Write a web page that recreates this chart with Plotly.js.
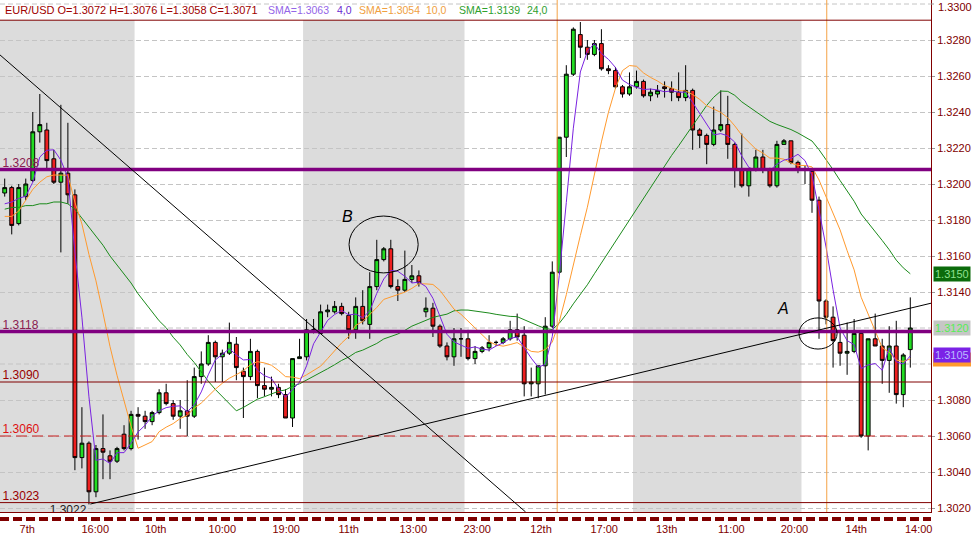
<!DOCTYPE html>
<html><head><meta charset="utf-8">
<script src="https://cdn.plot.ly/plotly-3.0.1.min.js"></script>
<style>html,body{margin:0;padding:0;background:#fff}#chart{width:976px;height:539px}</style>
</head><body><div id="chart"></div>
<script>
// ---- data (hourly EUR/USD candles, index 0..129) ----
const openP = [1.3195,1.3198,1.3178,1.3193,1.3202,1.3229,1.3230,1.3214,1.3201,1.3206,
1.3194,1.3048,1.3056,1.3029,1.3053,1.3049,1.3046,1.3061,1.3053,1.3072,
1.3071,1.3068,1.3073,1.3084,1.3078,1.3071,1.3074,1.3071,1.3093,1.3100,
1.3112,1.3104,1.3106,1.3111,1.3096,1.3093,1.3107,1.3088,1.3086,1.3087,
1.3083,1.3070,1.3103,1.3104,1.3119,1.3117,1.3129,1.3129,1.3132,1.3127,
1.3119,1.3132,1.3122,1.3143,1.3158,1.3164,1.3143,1.3141,1.3147,1.3149,
1.3129,1.3131,1.3121,1.3110,1.3104,1.3114,1.3114,1.3103,1.3107,1.3109,
1.3112,1.3112,1.3114,1.3119,1.3116,1.3089,1.3089,1.3099,1.3121,1.3151,
1.3226,1.3261,1.3283,1.3276,1.3272,1.3278,1.3264,1.3263,1.3254,1.3250,
1.3254,1.3257,1.3249,1.3250,1.3254,1.3253,1.3251,1.3248,1.3252,1.3230,
1.3227,1.3222,1.3230,1.3233,1.3222,1.3208,1.3199,1.3208,1.3215,1.3208,
1.3199,1.3222,1.3224,1.3212,1.3208,1.3207,1.3191,1.3135,1.3126,1.3112,
1.3106,1.3107,1.3117,1.3060,1.3114,1.3110,1.3102,1.3110,1.3083,1.3108];
const highP = [1.3203,1.3199,1.3200,1.3203,1.3240,1.3250,1.3234,1.3219,1.3244,1.3234,
1.3197,1.3076,1.3057,1.3055,1.3072,1.3052,1.3054,1.3066,1.3074,1.3076,
1.3074,1.3074,1.3086,1.3089,1.3080,1.3080,1.3091,1.3098,1.3107,1.3116,
1.3113,1.3108,1.3123,1.3115,1.3098,1.3114,1.3108,1.3098,1.3093,1.3089,
1.3086,1.3103,1.3114,1.3125,1.3125,1.3133,1.3133,1.3135,1.3134,1.3129,
1.3137,1.3141,1.3151,1.3169,1.3165,1.3169,1.3147,1.3163,1.3155,1.3152,
1.3137,1.3134,1.3122,1.3112,1.3120,1.3120,1.3119,1.3110,1.3110,1.3116,
1.3113,1.3115,1.3124,1.3128,1.3121,1.3098,1.3099,1.3126,1.3157,1.3226,
1.3266,1.3287,1.3290,1.3280,1.3280,1.3286,1.3266,1.3265,1.3255,1.3262,
1.3263,1.3258,1.3253,1.3255,1.3257,1.3257,1.3262,1.3266,1.3253,1.3231,
1.3228,1.3243,1.3252,1.3249,1.3223,1.3228,1.3209,1.3219,1.3219,1.3209,
1.3224,1.3225,1.3224,1.3213,1.3210,1.3208,1.3193,1.3136,1.3132,1.3119,
1.3123,1.3125,1.3118,1.3114,1.3128,1.3114,1.3121,1.3124,1.3106,1.3137];
const lowP = [1.3193,1.3172,1.3177,1.3191,1.3201,1.3223,1.3208,1.3200,1.3162,1.3189,
1.3041,1.3042,1.3022,1.3026,1.3036,1.3036,1.3045,1.3052,1.3052,1.3058,
1.3064,1.3066,1.3072,1.3077,1.3069,1.3064,1.3060,1.3070,1.3089,1.3099,
1.3090,1.3090,1.3105,1.3091,1.3070,1.3091,1.3081,1.3082,1.3082,1.3081,
1.3070,1.3065,1.3103,1.3102,1.3117,1.3117,1.3126,1.3128,1.3127,1.3114,
1.3114,1.3122,1.3114,1.3141,1.3157,1.3142,1.3135,1.3140,1.3145,1.3143,
1.3126,1.3115,1.3109,1.3102,1.3099,1.3104,1.3102,1.3100,1.3106,1.3107,
1.3110,1.3111,1.3113,1.3113,1.3082,1.3082,1.3081,1.3083,1.3120,1.3150,
1.3215,1.3260,1.3270,1.3269,1.3271,1.3263,1.3261,1.3253,1.3248,1.3249,
1.3253,1.3248,1.3246,1.3248,1.3248,1.3246,1.3246,1.3246,1.3219,1.3220,
1.3211,1.3221,1.3229,1.3214,1.3198,1.3198,1.3193,1.3207,1.3206,1.3198,
1.3198,1.3222,1.3211,1.3206,1.3200,1.3184,1.3114,1.3122,1.3098,1.3099,
1.3094,1.3106,1.3059,1.3052,1.3110,1.3089,1.3084,1.3078,1.3076,1.3098];
const closeP = [1.3198,1.3177,1.3198,1.3200,1.3229,1.3233,1.3213,1.3201,1.3206,1.3194,
1.3048,1.3056,1.3029,1.3053,1.3051,1.3046,1.3053,1.3053,1.3072,1.3071,
1.3068,1.3073,1.3084,1.3078,1.3071,1.3074,1.3071,1.3093,1.3100,1.3112,
1.3104,1.3106,1.3112,1.3098,1.3093,1.3107,1.3088,1.3086,1.3087,1.3083,
1.3070,1.3103,1.3104,1.3119,1.3119,1.3129,1.3130,1.3132,1.3128,1.3119,
1.3132,1.3124,1.3143,1.3158,1.3164,1.3143,1.3141,1.3147,1.3149,1.3145,
1.3131,1.3121,1.3110,1.3104,1.3114,1.3114,1.3103,1.3107,1.3109,1.3112,
1.3112,1.3114,1.3119,1.3115,1.3089,1.3090,1.3099,1.3121,1.3151,1.3226,
1.3261,1.3286,1.3276,1.3272,1.3278,1.3264,1.3263,1.3254,1.3250,1.3254,
1.3257,1.3249,1.3251,1.3252,1.3253,1.3251,1.3248,1.3252,1.3230,1.3227,
1.3222,1.3230,1.3233,1.3222,1.3208,1.3199,1.3208,1.3215,1.3208,1.3199,
1.3222,1.3224,1.3212,1.3208,1.3208,1.3191,1.3135,1.3126,1.3113,1.3106,
1.3107,1.3117,1.3060,1.3114,1.3110,1.3102,1.3110,1.3083,1.3105,1.3120];
// moving-average values visible before enough candles exist
const sma4Lead  = [1.3189,1.3190,1.3192];
const sma10Lead = [1.3182,1.3182,1.3185,1.3191,1.3197,1.3201,1.3204,1.3205,1.3205];
const sma24Lead = [1.3186,1.3187,1.3187,1.3188,1.3188,1.3189,1.3189,1.3190,1.3190,1.3189,
                   1.3186,1.3181,1.3176,1.3171,1.3166,1.3160,1.3155,1.3150,1.3145,1.3139,
                   1.3134,1.3129,1.3124];
const tickIdx  = [3.2,12.9,21.5,31,40.1,49,58.2,67.3,76.4,85.4,94.3,103.5,112.5,121.3,130.2];
const tickText = ['7th','16:00','10th','10:00','19:00','11th','13:00','23:00','12th','17:00','13th','11:00','20:00','14th','14:00'];
// 1.3100 and 1.3120 sit under the price boxes on the right; 1.3300 is at the very top edge
const priceTicks = [1.3020,1.3040,1.3060,1.3080,1.3140,1.3160,1.3180,1.3200,1.3220,1.3240,1.3260,1.3280];
const gridPrices = [1.3100,1.3120,1.3300];
const topTickLabel = '1.3300';
const levelPrices = [1.3208,1.3118,1.3090,1.3060,1.3023];
const levelLabels = ['1.3208','1.3118','1.3090','1.3060','1.3023'];
const lowLabel = '1.3022';
const recentHigh = 1.3291;
const dayBands = [[-0.7,18.5],[42.5,65.5],[89.5,113.5]];
const sessionMarks = [78.7,117.1];
const trendDown = [[-0.67,1.32717],[74.2,1.30178]];
const trendUp   = [[12.2,1.30222],[132.2,1.31340]];
const headerParts = ['EUR/USD O=1.3072 H=1.3076 L=1.3058 C=1.3071','SMA=1.3063','4,0','SMA=1.3054','10,0','SMA=1.3139','24,0'];
const sidePrices = [1.3105,1.3120,1.3150];
const sma10Last = 1.3103;

// ---- derived ----
const idx = closeP.map((_, i) => i);
function sma(n, lead) {
  return closeP.map((_, i) => {
    if (i < n - 1) return lead[i];
    let s = 0;
    for (let k = i - n + 1; k <= i; k++) s += closeP[k];
    return s / n;
  });
}
const sma4 = sma(4, sma4Lead), sma10 = sma(10, sma10Lead), sma24 = sma(24, sma24Lead);

// ---- geometry helpers (plot area 931 x 512 px) ----
const PW = 931, PH = 512;
const px = v => v / PW, py = v => (PH - v) / PH;
const FONT = 'Liberation Sans, Arial, sans-serif';
const MAROON = '#800000';
const YMIN = 1.301778, YMAX = 1.330222;
const priceToPaper = p => (p - YMIN) / (YMAX - YMIN);

const traces = [
  {type:'candlestick', x: idx, open: openP, high: highP, low: lowP, close: closeP,
   increasing:{line:{color:'#000', width:1}, fillcolor:'#22dd22'},
   decreasing:{line:{color:'#000', width:1}, fillcolor:'#ee2020'},
   whiskerwidth:0, hoverinfo:'skip', showlegend:false},
  {type:'scatter', mode:'lines', x: idx, y: sma24, line:{color:'#1b8a1b', width:1}, hoverinfo:'skip', showlegend:false},
  {type:'scatter', mode:'lines', x: idx, y: sma10, line:{color:'#ff9a2e', width:1}, hoverinfo:'skip', showlegend:false},
  {type:'scatter', mode:'lines', x: idx, y: sma4, line:{color:'#7a22e0', width:1}, hoverinfo:'skip', showlegend:false},
  {type:'scatter', mode:'text', x: levelPrices.map(() => -0.3), y: levelPrices, text: levelLabels,
   textposition:'top right', cliponaxis:true,
   textfont:{family:FONT, size:12, color:['#8a2050','#8a2050','#990000','#dd1111','#990000']},
   hoverinfo:'skip', showlegend:false},
  {type:'scatter', mode:'text', x:[6.4], y:[1.30183], text:[lowLabel],
   textposition:'middle right', cliponaxis:true,
   textfont:{family:FONT, size:12, color:'#222'}, hoverinfo:'skip', showlegend:false}
];

const shapes = [];
dayBands.forEach(b => shapes.push({type:'rect', layer:'below', xref:'x', yref:'paper', x0:b[0], x1:b[1], y0:0, y1:py(20),
  fillcolor:'#dcdcdc', line:{width:0}}));
// grid lines at the price levels whose labels are covered / placed by hand
gridPrices.forEach(g => shapes.push({type:'line', layer:'below', xref:'paper', yref:'y', x0:0, x1:1, y0:g, y1:g,
  line:{color:'#c4c4c4', width:1, dash:'5px,3px'}}));
sessionMarks.forEach(m => shapes.push({type:'line', layer:'above', xref:'x', yref:'paper', x0:m, x1:m, y0:0, y1:1,
  line:{color:'#f4a246', width:1}}));
const hline = (y, color, width, dash) => shapes.push({type:'line', layer:'above', xref:'paper', yref:'y', x0:0, x1:1, y0:y, y1:y,
  line:{color, width, dash: dash || 'solid'}});
hline(recentHigh, MAROON, 1);
hline(levelPrices[0], '#800080', 3.5);
hline(levelPrices[1], '#800080', 3.5);
hline(levelPrices[2], MAROON, 1);
hline(levelPrices[3], '#c81e1e', 1, '11px,5px');
hline(levelPrices[4], MAROON, 1);
[trendDown, trendUp].forEach(t => shapes.push({type:'line', layer:'above', xref:'x', yref:'y',
  x0:t[0][0], y0:t[0][1], x1:t[1][0], y1:t[1][1], line:{color:'#000', width:1}}));
// circled areas B and A
shapes.push({type:'circle', layer:'above', xref:'x', yref:'y', x0:49.05, x1:58.9, y0:1.31506, y1:1.31822, line:{color:'#000', width:1}});
shapes.push({type:'circle', layer:'above', xref:'x', yref:'y', x0:113.15, x1:118.57, y0:1.31083, y1:1.31256, line:{color:'#000', width:1}});
// time strip under the plot
shapes.push({type:'line', xref:'paper', yref:'paper', x0:0, x1:1, y0:py(519), y1:py(519),
  line:{color:MAROON, width:4, dash:'9px,4px'}});
// SMA(10) price box, almost hidden behind the SMA(4) box
const s10 = priceToPaper(sma10Last);
shapes.push({type:'rect', xref:'paper', yref:'paper', x0:px(933), x1:px(971), y0:s10 - 8/PH, y1:s10 + 6/PH,
  fillcolor:'#ff9a2e', line:{width:0}});
// tick mark for the top label
shapes.push({type:'line', xref:'paper', yref:'y', x0:1, x1:px(934), y0:1.3300, y1:1.3300, line:{color:'#999', width:1}});

const annotations = [];
const hdrX = [3, 266, 335, 357, 424, 457, 525];
const hdrS = [11, 10.5, 10.5, 10.5, 10.5, 10.5, 10.5];
const hdrC = ['#a00000','#9466e8','#6a2ad0','#f0a040','#f0a040','#2ea02e','#2ea02e'];
headerParts.forEach((t, i) => annotations.push({xref:'paper', yref:'paper', x:px(hdrX[i]), y:py(10), xanchor:'left', yanchor:'middle',
  text:t, showarrow:false, font:{family:FONT, size:hdrS[i], color:hdrC[i]}}));
annotations.push({xref:'paper', yref:'paper', x:px(936), y:py(7), xanchor:'left', yanchor:'middle', text:topTickLabel,
  showarrow:false, font:{family:FONT, size:11, color:MAROON}});
annotations.push({xref:'x', yref:'y', x:48.9, y:1.31822, text:'<i>B</i>', showarrow:false, font:{family:FONT, size:16, color:'#000'}});
annotations.push({xref:'x', yref:'y', x:110.9, y:1.31306, text:'<i>A</i>', showarrow:false, font:{family:FONT, size:16, color:'#000'}});
const sideBg = ['#7b22e6','#c6c6c6','#0b6b0b'];
const sideFg = ['#b9b9ff','#55ee55','#8fe08f'];
sidePrices.forEach((p, i) => annotations.push({xref:'paper', yref:'y', x:1, xshift:2, y:p, xanchor:'left', yanchor:'middle',
  text:p.toFixed(4), showarrow:false, bgcolor:sideBg[i], borderpad:1, font:{family:FONT, size:11, color:sideFg[i]}}));

const layout = {
  width:976, height:539, autosize:false,
  margin:{l:0, r:976-PW, t:0, b:539-PH, pad:0},
  paper_bgcolor:'#fff', plot_bgcolor:'#fff',
  showlegend:false, boxgap:0.22,
  xaxis:{range:[-0.67,131.95], rangeslider:{visible:false}, showgrid:false, zeroline:false,
    tickmode:'array', tickvals:tickIdx, ticktext:tickText, ticks:'outside', ticklen:7, tickcolor:'rgba(0,0,0,0)',
    tickfont:{family:FONT, size:11, color:MAROON}, showline:true, linecolor:MAROON, linewidth:1, fixedrange:true},
  yaxis:{side:'right', range:[YMIN, YMAX], tickmode:'array', tickvals:priceTicks, ticktext:priceTicks.map(v => v.toFixed(4)),
    ticks:'outside', ticklen:3, tickcolor:'#999', tickfont:{family:FONT, size:11, color:MAROON},
    showgrid:true, gridcolor:'#c4c4c4', griddash:'5px,3px', gridwidth:1, zeroline:false,
    showline:true, linecolor:MAROON, linewidth:1, mirror:true, fixedrange:true},
  shapes, annotations
};
Plotly.newPlot('chart', traces, layout, {staticPlot:true, displayModeBar:false});
</script></body></html>
